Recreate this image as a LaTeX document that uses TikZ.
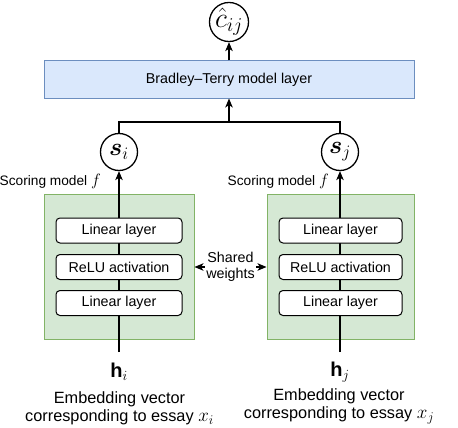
\RequirePackage{fix-cm}
\documentclass[tikz,border=0pt]{standalone}
\usepackage{amsmath,bm}
\usepackage{fontspec}
\setmainfont{Liberation Sans}
\usetikzlibrary{arrows.meta}
\definecolor{btfill}{HTML}{DAE8FC}
\definecolor{btdraw}{HTML}{6C8EBF}
\definecolor{gfill}{HTML}{D5E8D4}
\definecolor{gdraw}{HTML}{82B366}
\newcommand{\tmath}[2]{{\fontsize{#1}{#1}\selectfont$#2$}}
\tikzset{
  txt/.style={font=\fontsize{14.3}{16}\selectfont, inner sep=0pt},
  var/.style={circle, draw, line width=1.3pt, minimum size=37pt, inner sep=0pt, font=\fontsize{25}{27}\selectfont},
  btbox/.style={draw=btdraw, fill=btfill, line width=1pt, minimum width=370pt, minimum height=37pt, inner sep=0pt, font=\fontsize{14.3}{16}\selectfont},
  gbox/.style={draw=gdraw, fill=gfill, line width=1pt, minimum height=145pt, inner sep=0pt},
  layerbox/.style={draw, fill=white, rounded corners=4pt, line width=1pt, minimum height=25pt, inner sep=0pt, font=\fontsize{14.3}{16}\selectfont},
  embtxt/.style={inner sep=0pt, align=center, font=\fontsize{16.3}{18}\selectfont},
  conn/.style={line width=1.1pt},
  arr/.style={conn, -{Stealth[length=9pt,width=7.5pt,inset=2.5pt]}},
  biarr/.style={conn, {Stealth[length=9pt,width=7.5pt,inset=2.5pt]}-{Stealth[length=9pt,width=7.5pt,inset=2.5pt]}},
}
\begin{document}
\begin{tikzpicture}[x=1pt,y=-1pt]
\useasboundingbox (0,0) rectangle (458,428);
% output and BT layer
\node[var, font=\fontsize{28}{30}\selectfont] (cij) at (229,22) {$\hat{c}_{ij}$};
\node[btbox] (bt) at (229,79.5) {Bradley--Terry model layer};
% scores
\node[var] (si) at (119,152) {$\boldsymbol{s}_i$};
\node[var] (sj) at (340,152) {$\boldsymbol{s}_j$};
\coordinate (jn) at (229,122);
\draw[conn] (si.north) |- (jn) -| (sj.north);
\draw[arr] (jn) -- (bt.south);
\draw[arr] (bt.north) -- (cij.south);
% scoring model containers
\node[gbox, minimum width=150pt] (gl) at (119,266.5) {};
\node[gbox, minimum width=147pt] (gr) at (340.5,266.5) {};
\node[txt, anchor=base east, font=\fontsize{13.7}{16}\selectfont] (sml) at (101,185.5) {Scoring model \tmath{16.5}{f}};
\node[txt, anchor=base east, font=\fontsize{13.7}{16}\selectfont] (smr) at (329,185.5) {Scoring model \tmath{16.5}{f}};
% inputs
\coordinate (hil) at (119,352);
\coordinate (hjl) at (340,352);
\draw[arr] (hil) -- (si.south);
\draw[arr] (hjl) -- (sj.south);
% layers
\node[layerbox, minimum width=126pt] (l1) at (119,230.5) {Linear layer};
\node[layerbox, minimum width=126pt] (l2) at (119,267) {ReLU activation};
\node[layerbox, minimum width=126pt] (l3) at (119,303) {Linear layer};
\node[layerbox, minimum width=123pt] (r1) at (340.5,230.5) {Linear layer};
\node[layerbox, minimum width=123pt] (r2) at (340.5,267) {ReLU activation};
\node[layerbox, minimum width=123pt] (r3) at (340.5,303) {Linear layer};
% shared weights
\draw[biarr] (gl.east |- l2) -- (gr.west |- l2);
\node[txt, fill=white, align=center, inner xsep=1pt] (sw) at (230.5,267) {Shared\\weights};
% input labels
\node[inner sep=0pt, font=\fontsize{20}{24}\selectfont] (hi) at (119,372) {$\mathbf{h}_i$};
\node[inner sep=0pt, font=\fontsize{20}{24}\selectfont] (hj) at (340,372) {$\mathbf{h}_j$};
\node[embtxt] (ei) at (119.5,408) {Embedding vector\\corresponding to essay \tmath{19}{x_i}};
\node[embtxt] (ej) at (339,406) {Embedding vector\\corresponding to essay \tmath{19}{x_j}};
\end{tikzpicture}
\end{document}
